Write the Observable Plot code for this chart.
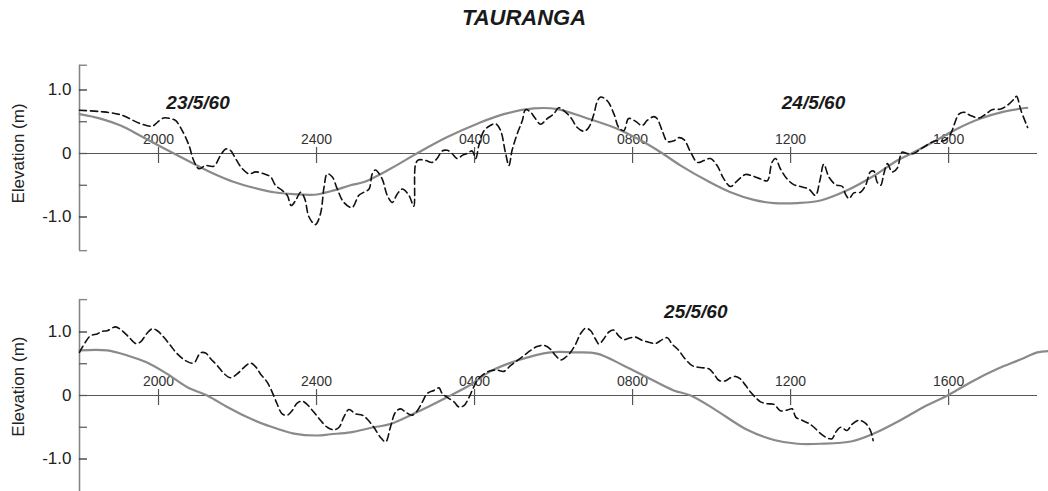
<!DOCTYPE html>
<html>
<head>
<meta charset="utf-8">
<script src="https://cdn.jsdelivr.net/npm/d3@7"></script>
<script src="https://cdn.jsdelivr.net/npm/@observablehq/plot@0.6"></script>
<style>
  body { margin: 0; background: #fff; }
  #wrap { position: relative; width: 1048px; height: 491px; overflow: hidden; font-family: "Liberation Sans", Arial, sans-serif; }
  #title { position: absolute; left: 0; top: -2px; width: 1048px; text-align: center; font-weight: bold; font-style: italic; font-size: 22px; line-height: 40px; color: #1a1a1a; }
  .panel { position: absolute; left: 0; }
</style>
</head>
<body>
<div id="wrap">
  <div id="title">TAURANGA</div>
  <div id="p1" class="panel" style="top:40px"></div>
  <div id="p2" class="panel" style="top:280px"></div>
</div>
<script>
// ---- Data (hours after 1800 on the first day of each panel, elevation in m) ----
const xTickHours = [2, 6, 10, 14, 18, 22];
const xTickLabels = ["2000", "2400", "0400", "0800", "1200", "1600"];
const yMajorTicks = [1, 0, -1];
const yMajorLabels = ["1.0", "0", "-1.0"];
const yMinorTicks = [0.5, -0.5];
const yAxisTitle = "Elevation (m)";

const topObsHours = [0,0.53,1.04,1.54,1.84,1.97,2.13,2.3,2.43,2.6,2.77,2.89,3.02,3.19,3.4,3.57,3.7,3.82,3.95,4.12,4.29,4.46,4.67,4.84,4.96,5.13,5.26,5.36,5.47,5.6,5.7,5.81,5.97,6.1,6.19,6.27,6.4,6.52,6.69,6.9,7.07,7.2,7.33,7.41,7.49,7.66,7.79,7.92,8.04,8.17,8.34,8.46,8.51,8.59,8.76,8.93,9.05,9.18,9.31,9.43,9.56,9.69,9.81,9.94,10.03,10.11,10.24,10.4,10.53,10.66,10.78,10.87,10.95,11.08,11.21,11.29,11.42,11.54,11.67,11.84,12.0,12.13,12.25,12.43,12.6,12.77,12.89,13.02,13.1,13.19,13.36,13.53,13.65,13.78,13.9,14.07,14.24,14.37,14.54,14.62,14.75,14.88,15.05,15.17,15.3,15.47,15.64,15.81,15.97,16.14,16.31,16.48,16.65,16.86,17.02,17.24,17.41,17.53,17.62,17.74,17.91,18.08,18.25,18.46,18.63,18.74,18.84,18.97,19.14,19.31,19.39,19.48,19.6,19.77,19.9,20.02,20.11,20.19,20.28,20.36,20.45,20.57,20.7,20.82,20.95,21.12,21.29,21.5,21.67,21.88,22.05,22.15,22.26,22.39,22.55,22.77,22.94,23.1,23.32,23.49,23.66,23.72,23.83,24.0];
const topObsElev = [0.68,0.66,0.61,0.47,0.43,0.49,0.56,0.55,0.52,0.36,0.13,-0.11,-0.24,-0.19,-0.2,-0.03,0.07,0.05,-0.08,-0.24,-0.32,-0.29,-0.32,-0.37,-0.5,-0.58,-0.66,-0.82,-0.74,-0.61,-0.71,-1.0,-1.12,-0.95,-0.53,-0.32,-0.37,-0.55,-0.77,-0.85,-0.66,-0.61,-0.56,-0.32,-0.26,-0.4,-0.66,-0.77,-0.64,-0.56,-0.66,-0.83,-0.16,-0.1,-0.11,-0.14,-0.08,0.04,0.05,0,-0.08,-0.03,0,0.04,-0.08,0.13,0.36,0.44,0.47,0.36,0.02,-0.19,0.05,0.31,0.52,0.69,0.65,0.55,0.46,0.55,0.62,0.72,0.68,0.57,0.41,0.35,0.41,0.62,0.81,0.89,0.83,0.62,0.41,0.36,0.55,0.51,0.44,0.52,0.58,0.55,0.36,0.19,0.2,0.25,0.22,0.02,-0.14,-0.11,-0.08,-0.19,-0.4,-0.52,-0.43,-0.33,-0.35,-0.4,-0.43,-0.14,-0.08,-0.24,-0.4,-0.49,-0.52,-0.56,-0.66,-0.43,-0.17,-0.37,-0.49,-0.52,-0.64,-0.71,-0.62,-0.61,-0.5,-0.29,-0.28,-0.45,-0.5,-0.32,-0.16,-0.29,-0.23,0.02,0,0,0.07,0.15,0.2,0.2,0.31,0.47,0.62,0.65,0.6,0.56,0.62,0.69,0.7,0.76,0.86,0.9,0.68,0.41];

const topPredHours = [0,0.53,1.04,1.54,1.99,2.39,2.89,3.4,3.91,4.41,4.92,5.43,5.93,6.44,6.86,7.2,7.87,8.59,9.31,10.07,10.74,11.5,12.09,12.77,13.61,14.28,14.71,15.22,15.89,16.48,17.07,17.58,18.17,18.76,19.43,20.11,20.7,21.12,21.63,22.22,22.81,23.4,23.99];
const topPredElev = [0.62,0.55,0.44,0.28,0.13,0,-0.16,-0.32,-0.45,-0.54,-0.61,-0.64,-0.65,-0.58,-0.5,-0.45,-0.24,0.02,0.26,0.47,0.62,0.71,0.7,0.57,0.39,0.18,0.02,-0.19,-0.43,-0.61,-0.73,-0.78,-0.78,-0.74,-0.58,-0.35,-0.11,0.02,0.19,0.39,0.55,0.66,0.72];

const botObsHours = [0,0.15,0.28,0.45,0.57,0.7,0.91,1.08,1.25,1.42,1.54,1.71,1.84,1.97,2.13,2.3,2.47,2.68,2.89,3.06,3.19,3.32,3.49,3.65,3.82,3.99,4.16,4.33,4.46,4.58,4.75,4.88,5.0,5.13,5.26,5.38,5.51,5.64,5.76,5.93,6.1,6.27,6.44,6.57,6.69,6.82,6.99,7.16,7.28,7.45,7.62,7.75,7.87,8.0,8.13,8.25,8.42,8.55,8.68,8.8,8.97,9.1,9.18,9.31,9.48,9.6,9.73,9.86,9.94,10.07,10.24,10.4,10.57,10.74,10.91,11.08,11.25,11.42,11.58,11.75,11.92,12.05,12.18,12.3,12.43,12.56,12.68,12.81,12.94,13.06,13.15,13.27,13.4,13.52,13.65,13.78,13.95,14.07,14.24,14.41,14.58,14.75,14.88,15.0,15.17,15.3,15.51,15.72,15.93,16.06,16.18,16.35,16.48,16.61,16.73,16.86,16.99,17.11,17.24,17.41,17.58,17.74,17.91,18.04,18.13,18.29,18.46,18.59,18.76,18.93,19.05,19.14,19.27,19.43,19.56,19.73,19.9,20.02,20.09];
const botObsElev = [0.68,0.84,0.94,0.97,1.01,1.02,1.08,1.02,0.92,0.82,0.84,0.98,1.05,1.02,0.92,0.79,0.66,0.55,0.51,0.67,0.67,0.58,0.47,0.35,0.28,0.34,0.44,0.51,0.45,0.34,0.21,0.05,-0.13,-0.29,-0.31,-0.24,-0.12,-0.09,-0.14,-0.26,-0.39,-0.5,-0.54,-0.5,-0.34,-0.22,-0.29,-0.31,-0.37,-0.5,-0.66,-0.73,-0.5,-0.26,-0.21,-0.26,-0.31,-0.24,-0.1,0.03,0.08,0.12,0.03,-0.03,-0.1,-0.18,-0.16,-0.03,0.08,0.24,0.34,0.39,0.4,0.38,0.47,0.55,0.63,0.71,0.77,0.79,0.73,0.63,0.56,0.6,0.68,0.81,0.97,1.06,1.02,0.89,0.81,0.89,1.0,1.03,0.94,0.88,0.91,0.92,0.87,0.84,0.82,0.88,0.91,0.81,0.71,0.6,0.47,0.44,0.42,0.34,0.24,0.23,0.28,0.3,0.26,0.16,0.05,-0.03,-0.1,-0.13,-0.14,-0.24,-0.23,-0.21,-0.34,-0.39,-0.44,-0.5,-0.6,-0.67,-0.68,-0.58,-0.5,-0.55,-0.45,-0.39,-0.44,-0.55,-0.71];

const botPredHours = [0,0.7,1.21,1.71,2.22,2.73,3.23,3.74,4.24,4.75,5.43,6.02,6.35,6.86,7.45,7.87,8.55,9.23,9.9,10.4,11.08,11.92,12.51,13.1,13.78,14.45,15.04,15.47,16.06,16.9,17.58,18.17,18.76,19.56,20.11,20.78,21.37,21.97,22.56,23.24,23.83,24.25,24.54];
const botPredElev = [0.71,0.71,0.63,0.52,0.34,0.13,0,-0.18,-0.34,-0.47,-0.6,-0.63,-0.61,-0.58,-0.5,-0.45,-0.26,-0.05,0.17,0.38,0.55,0.68,0.68,0.66,0.47,0.26,0.08,0,-0.21,-0.54,-0.7,-0.76,-0.76,-0.72,-0.6,-0.39,-0.18,0,0.21,0.42,0.57,0.68,0.7];

const topDates = ["23/5/60", "24/5/60"];
const topDateHours = [3.0, 18.58];
const topDateElev = [0.8, 0.8];
const botDates = ["25/5/60"];
const botDateHours = [15.6];
const botDateElev = [1.31];

// ---- Drawing ----
const FONT = '"Liberation Sans", Arial, sans-serif';
const X0 = 79, X1 = 1037, XMAX = 24.25;
const PXH = (X1 - X0) / XMAX;   // px per hour
const PXM = 63.5;               // px per metre

function panel(cfg) {
  const obs = cfg.obsH.map((h, i) => ({h, v: cfg.obsV[i]}));
  const pred = cfg.predH.map((h, i) => ({h, v: cfg.predV[i]}));
  const dates = cfg.dates.map((t, i) => ({t, h: cfg.dateH[i], v: cfg.dateV[i]}));
  const tickLen = 8 / PXH;
  return Plot.plot({
    width: 1048,
    height: cfg.height,
    marginLeft: X0, marginRight: 1048 - X1, marginTop: 0, marginBottom: 0,
    style: {fontFamily: FONT, background: "transparent", overflow: "visible"},
    x: {domain: [0, XMAX], range: [X0, X1], axis: null},
    y: {domain: [-1.5, 1.5], range: [cfg.zeroY + 1.5 * PXM, cfg.zeroY - 1.5 * PXM], axis: null},
    marks: [
      // y axis line and caps
      Plot.ruleX([0], {y1: cfg.yBot, y2: cfg.yTop, stroke: "#858585", strokeWidth: 1.6}),
      Plot.ruleY([cfg.yTop, cfg.yBot], {x1: 0, x2: tickLen, stroke: "#858585", strokeWidth: 1.4}),
      Plot.ruleY(yMinorTicks, {x1: 0, x2: tickLen, stroke: "#555", strokeWidth: 1.2}),
      Plot.ruleY(yMajorTicks, {x1: 0, x2: tickLen, stroke: "#222", strokeWidth: 1.2}),
      Plot.text(yMajorTicks, {x: 0, y: d => d, text: (d, i) => yMajorLabels[i], textAnchor: "end", dx: -8, fontSize: 17, fill: "#222"}),
      Plot.text([yAxisTitle], {x: 0, y: cfg.labelY, text: d => d, rotate: -90, dx: -61, fontSize: 17, fill: "#222"}),
      // zero line and x ticks
      Plot.ruleY([0], {x1: 0, x2: XMAX, stroke: "#555", strokeWidth: 1.2}),
      Plot.ruleX(xTickHours, {y1: 6 / PXM, y2: -10 / PXM, stroke: "#555", strokeWidth: 1.2}),
      Plot.text(xTickHours, {x: d => d, y: 0, text: (d, i) => xTickLabels[i], lineAnchor: "bottom", dy: -10, fontSize: 14, fill: "#333"}),
      // series
      Plot.line(pred, {x: "h", y: "v", stroke: "#8a8a8a", strokeWidth: 2.2, curve: "catmull-rom"}),
      Plot.line(obs, {x: "h", y: "v", stroke: "#111", strokeWidth: 1.6, strokeDasharray: "7,4", curve: "catmull-rom"}),
      // date annotations
      Plot.text(dates, {x: "h", y: "v", text: "t", fontSize: 19, fontWeight: "bold", fontStyle: "italic", fill: "#1a1a1a"})
    ]
  });
}

document.getElementById("p1").appendChild(panel({
  obsH: topObsHours, obsV: topObsElev, predH: topPredHours, predV: topPredElev,
  dates: topDates, dateH: topDateHours, dateV: topDateElev,
  height: 230, zeroY: 113, yTop: 1.39, yBot: -1.53, labelY: 0
}));
document.getElementById("p2").appendChild(panel({
  obsH: botObsHours, obsV: botObsElev, predH: botPredHours, predV: botPredElev,
  dates: botDates, dateH: botDateHours, dateV: botDateElev,
  height: 211, zeroY: 115, yTop: 1.51, yBot: -1.6, labelY: 0.14
}));
</script>
</body>
</html>
